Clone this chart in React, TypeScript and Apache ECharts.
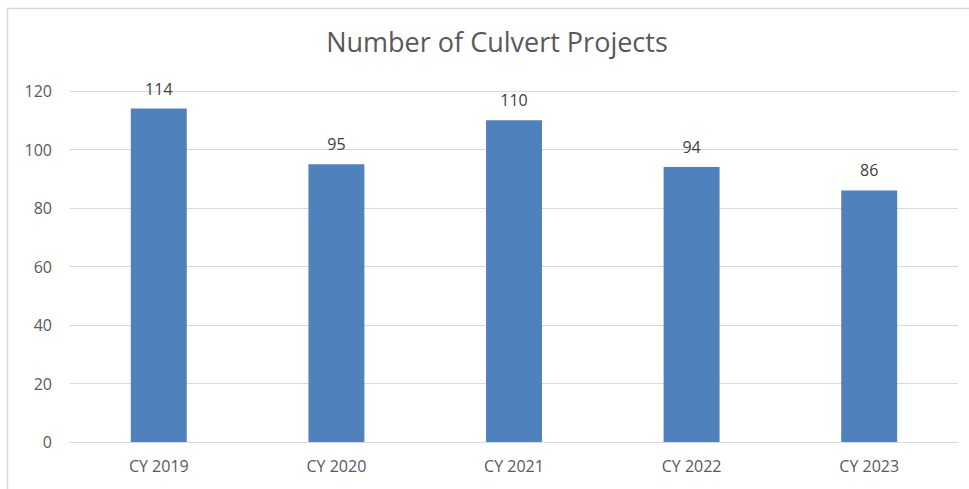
import React, { useEffect, useRef } from "react";
import * as echarts from "echarts";

const categories = ["CY 2019", "CY 2020", "CY 2021", "CY 2022", "CY 2023"];
const values = [114, 95, 110, 94, 86];
const yTicks = { min: 0, max: 120, interval: 20 };

export default function App() {
  const ref = useRef<HTMLDivElement>(null);
  useEffect(() => {
    const chart = echarts.init(ref.current!, null, { renderer: "svg" });
    const font = "'Open Sans', Lato, sans-serif";
    chart.setOption({
      animation: false,
      backgroundColor: "#ffffff",
      title: {
        text: "Number of Culvert Projects",
        left: 492,
        top: 23,
        textAlign: "center",
        textStyle: { fontFamily: font, fontSize: 27, fontWeight: "normal", color: "#595959" },
      },
      graphic: [
        {
          type: "rect",
          shape: { x: 7.5, y: 8.5, width: 1000, height: 1000 },
          style: { fill: "none", stroke: "#d9d9d9", lineWidth: 1.5 },
          silent: true,
        },
      ],
      grid: { left: 70, right: 11, top: 91, bottom: 47 },
      xAxis: {
        type: "category",
        data: categories,
        axisLine: { show: true, lineStyle: { color: "#d9d9d9", width: 1 } },
        axisTick: { show: false },
        axisLabel: { fontFamily: font, fontSize: 16, color: "#595959", margin: 16 },
      },
      yAxis: {
        type: "value",
        min: yTicks.min,
        max: yTicks.max,
        interval: yTicks.interval,
        axisLine: { show: false },
        axisTick: { show: false },
        splitLine: { lineStyle: { color: "#d9d9d9", width: 1 } },
        axisLabel: { fontFamily: font, fontSize: 16, color: "#595959", margin: 18 },
      },
      series: [
        {
          type: "bar",
          data: values,
          barWidth: "31.5%",
          itemStyle: { color: "#4f81bd" },
          label: {
            show: true,
            position: "top",
            distance: 12,
            fontFamily: font,
            fontSize: 16,
            color: "#404040",
          },
        },
      ],
    });
    return () => chart.dispose();
  }, []);
  return (
    <div
      ref={ref}
      style={{ position: "fixed", left: 0, top: 0, width: 969, height: 489 }}
    />
  );
}
